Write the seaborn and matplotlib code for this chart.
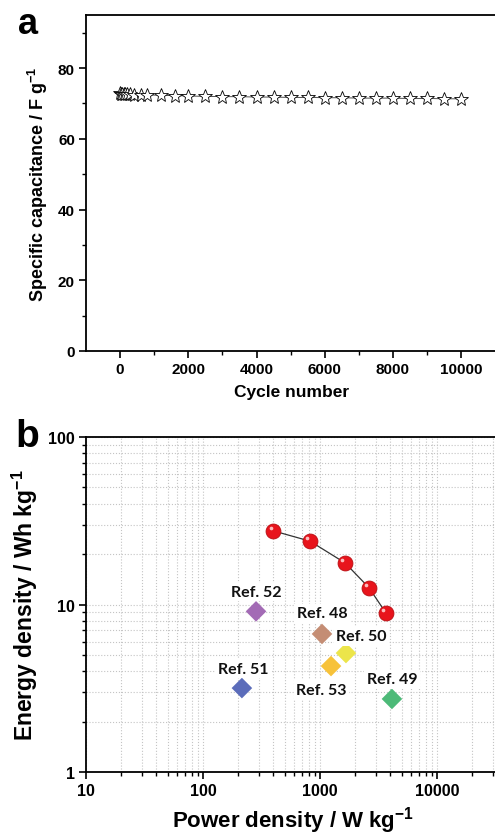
import numpy as np
import pandas as pd
import seaborn as sns
import matplotlib
matplotlib.use("Agg")
import matplotlib.pyplot as plt
from matplotlib.ticker import MultipleLocator, LogLocator, FixedLocator, NullFormatter
import matplotlib.transforms as mtransforms

# ---- cycling stability data (panel a) ----
cycles = [0, 20, 50, 100, 150, 200, 300, 400, 600, 800, 1200, 1600,
          2000, 2500, 3000, 3500, 4000, 4500, 5000, 5500, 6000, 6500,
          7000, 7500, 8000, 8500, 9000, 9500, 10000]
capacitance = [72.9, 72.8, 72.8, 72.7, 72.7, 72.6, 72.6, 72.5, 72.5, 72.4, 72.3, 72.2,
               72.1, 72.0, 71.9, 71.9, 71.8, 71.8, 71.7, 71.7, 71.6, 71.6,
               71.5, 71.5, 71.5, 71.4, 71.4, 71.3, 71.3]

# ---- Ragone data (panel b) ----
power_this = [400, 820, 1640, 2620, 3660]
energy_this = [27.5, 23.9, 17.7, 12.6, 8.9]

ref_names = ["Ref. 52", "Ref. 48", "Ref. 50", "Ref. 53", "Ref. 51", "Ref. 49"]
ref_power = [284, 1040, 1667, 1242, 215, 4120]
ref_energy = [9.1, 6.67, 5.13, 4.29, 3.17, 2.73]
ref_colors = ["#a36bb5", "#c48d74", "#ece54a", "#f7c23a", "#5b6cba", "#4dba78"]
# label offsets (points) relative to each marker
ref_label_offsets = [(0, 14), (0, 15), (11, 12), (-7, -17), (1, 14), (0, 14)]

sns.set_style("ticks")
plt.rcParams["font.family"] = ["Liberation Sans", "DejaVu Sans"]
plt.rcParams["font.weight"] = "bold"
plt.rcParams["mathtext.fontset"] = "custom"
plt.rcParams["mathtext.rm"] = "Liberation Sans:bold"
plt.rcParams["mathtext.bf"] = "Liberation Sans:bold"
plt.rcParams["mathtext.default"] = "bf"
for key in ["text.color", "axes.labelcolor", "xtick.color", "ytick.color", "axes.edgecolor"]:
    plt.rcParams[key] = "black"
plt.rcParams["axes.linewidth"] = 1.3
plt.rcParams["xtick.major.width"] = 1.2
plt.rcParams["ytick.major.width"] = 1.2
plt.rcParams["xtick.minor.width"] = 1.0
plt.rcParams["ytick.minor.width"] = 1.0
plt.rcParams["xtick.direction"] = "out"
plt.rcParams["ytick.direction"] = "out"

W, H = 495, 837
fig = plt.figure(figsize=(W / 100, H / 100), dpi=100)
fig.patch.set_facecolor("white")

def px_axes(left, top, right, bottom):
    return fig.add_axes([left / W, 1 - bottom / H, (right - left) / W, (bottom - top) / H])

# ================= panel a =================
ax1 = px_axes(86, 16, 497, 352)
df_a = pd.DataFrame({"cycle": cycles, "cap": capacitance})
sns.lineplot(data=df_a, x="cycle", y="cap", ax=ax1, color="#333333", linewidth=0.6,
             marker="*", markersize=10.5, markerfacecolor="white",
             markeredgecolor="black", markeredgewidth=0.6)
ax1.set_xlim(-1000, -1000 + 12000 * (411 / 409.2))
ax1.set_ylim(0, 95)
ax1.xaxis.set_major_locator(FixedLocator([0, 2000, 4000, 6000, 8000, 10000]))
ax1.xaxis.set_minor_locator(FixedLocator([1000, 3000, 5000, 7000, 9000]))
ax1.yaxis.set_major_locator(MultipleLocator(20))
ax1.yaxis.set_minor_locator(FixedLocator([10, 30, 50, 70, 90]))
ax1.tick_params(which="major", length=5, labelsize=11, pad=3)
ax1.tick_params(which="minor", length=3)
ax1.tick_params(top=False, right=False)
for lab in ax1.get_xticklabels() + ax1.get_yticklabels():
    lab.set_fontweight("bold")
ax1.set_xlabel("Cycle number", fontsize=12.5, fontweight="bold", labelpad=6)
ax1.set_ylabel("Specific capacitance / F g$^{-1}$", fontsize=13, fontweight="bold", labelpad=6)
ax1.spines["right"].set_visible(False)
fig.text(28 / W, 1 - 24 / H, "a", fontsize=26, fontweight="bold", ha="center", va="center")

# ================= panel b =================
ax2 = px_axes(86, 438, 500, 773)
ax2.set_xscale("log")
ax2.set_yscale("log")
ax2.set_xlim(10, 10 ** (1 + (500 - 86) / 117.0))
ax2.set_ylim(1, 100)
ax2.grid(which="both", linestyle=":", color="#c4c4c4", linewidth=0.8)
ax2.set_axisbelow(True)

df_b = pd.DataFrame({"power": power_this, "energy": energy_this})
sns.lineplot(data=df_b, x="power", y="energy", ax=ax2, color="#333333", linewidth=0.9,
             zorder=3, sort=False)
sns.scatterplot(data=df_b, x="power", y="energy", ax=ax2, s=115, color="#e8141c",
                edgecolor="#b80d12", linewidth=0.6, zorder=4)
# specular highlight on the spheres
hl = mtransforms.offset_copy(ax2.transData, fig=fig, x=-2.0, y=2.0, units="points")
ax2.scatter(power_this, energy_this, s=7, color="#ffd0d0", alpha=0.9, linewidths=0,
            transform=hl, zorder=5)

df_r = pd.DataFrame({"power": ref_power, "energy": ref_energy, "ref": ref_names})
sns.scatterplot(data=df_r, x="power", y="energy", hue="ref", palette=ref_colors,
                marker="D", s=110, linewidth=0, ax=ax2, legend=False, zorder=4)
for name, xp, yp, off in zip(ref_names, ref_power, ref_energy, ref_label_offsets):
    ax2.annotate(name, (xp, yp), xytext=off, textcoords="offset points",
                 ha="center", va="center", fontsize=11.5, fontweight="bold",
                 family=["Lato", "DejaVu Sans"], color="#111111", zorder=6,
                 bbox=dict(boxstyle="square,pad=0.15", fc="white", ec="none"))

ax2.xaxis.set_minor_locator(LogLocator(base=10, subs=np.arange(2, 10), numticks=20))
ax2.yaxis.set_minor_locator(LogLocator(base=10, subs=np.arange(2, 10), numticks=20))
ax2.set_xticks([10, 100, 1000, 10000])
ax2.set_xticklabels(["10", "100", "1000", "10000"])
ax2.set_yticks([1, 10, 100])
ax2.set_yticklabels(["1", "10", "100"])
ax2.xaxis.set_minor_formatter(NullFormatter())
ax2.yaxis.set_minor_formatter(NullFormatter())
ax2.tick_params(which="major", length=5, labelsize=11.5, pad=3)
ax2.tick_params(which="minor", length=3)
ax2.tick_params(top=False, right=False)
for lab in ax2.get_xticklabels() + ax2.get_yticklabels():
    lab.set_fontweight("bold")
ax2.set_xlabel("Power density / W kg$^{-1}$", fontsize=16, fontweight="bold", labelpad=4)
ax2.set_ylabel("Energy density / Wh kg$^{-1}$", fontsize=16.5, fontweight="bold", labelpad=6)
ax2.spines["right"].set_visible(False)
fig.text(27 / W, 1 - 437 / H, "b", fontsize=28, fontweight="bold", ha="center", va="center")

fig.savefig("out.png", dpi=100, facecolor="white")
